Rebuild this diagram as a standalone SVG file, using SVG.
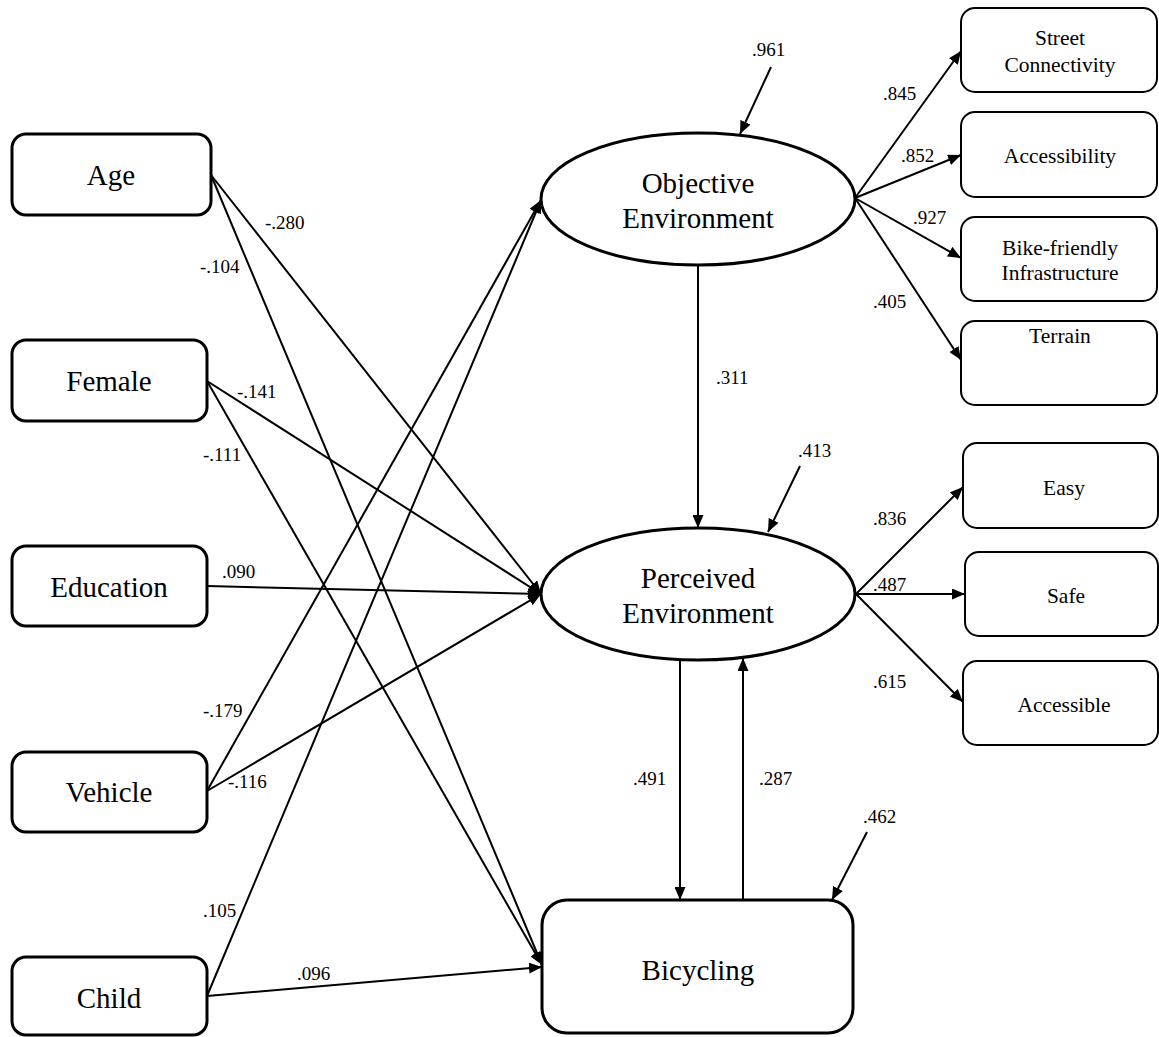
<svg xmlns="http://www.w3.org/2000/svg" width="1159" height="1037" viewBox="0 0 1159 1037">
<style>
.nb{fill:#fff;stroke:#000;stroke-width:3}
.ib{fill:#fff;stroke:#000;stroke-width:2}
.big{font-family:"Liberation Serif","Times New Roman",serif;font-size:29px;fill:#000;text-anchor:middle}
.sm{font-family:"Liberation Serif","Times New Roman",serif;font-size:21.5px;fill:#000;text-anchor:middle}
.lb{font-family:"Liberation Serif","Times New Roman",serif;font-size:19px;fill:#000}
.c line{stroke:#000;stroke-width:2;marker-end:url(#ah)}
</style>
<defs>
<marker id="ah" markerUnits="userSpaceOnUse" markerWidth="14" markerHeight="11" refX="13" refY="5.5" orient="auto">
<path d="M0,0 L13,5.5 L0,11 z" fill="#000"/>
</marker>
</defs>
<rect width="1159" height="1037" fill="#fff"/>
<g class="c" id="connectors">
<line x1="211" y1="175" x2="541" y2="594"/>
<line x1="211" y1="175" x2="542" y2="965"/>
<line x1="207" y1="381" x2="541" y2="594"/>
<line x1="207" y1="381" x2="542" y2="965"/>
<line x1="207" y1="586" x2="541" y2="594"/>
<line x1="207" y1="791" x2="541" y2="200"/>
<line x1="207" y1="791" x2="541" y2="594"/>
<line x1="207" y1="996" x2="541" y2="200"/>
<line x1="207" y1="996" x2="542" y2="967"/>
<line x1="698" y1="265" x2="698" y2="528"/>
<line x1="680" y1="660" x2="680" y2="900"/>
<line x1="743" y1="900" x2="743" y2="658"/>
<line x1="771" y1="67" x2="740" y2="134"/>
<line x1="800" y1="466" x2="768" y2="532"/>
<line x1="867" y1="832" x2="832" y2="900"/>
<line x1="855" y1="198" x2="961" y2="51"/>
<line x1="855" y1="198" x2="961" y2="155"/>
<line x1="855" y1="198" x2="961" y2="258"/>
<line x1="855" y1="198" x2="961" y2="360"/>
<line x1="856" y1="594" x2="963" y2="487"/>
<line x1="856" y1="594" x2="965" y2="594"/>
<line x1="856" y1="594" x2="963" y2="702"/>
</g>
<g id="age"><rect class="nb" x="12" y="134" width="199" height="81" rx="14"/><text class="big" x="111" y="185">Age</text></g>
<g id="female"><rect class="nb" x="12" y="340" width="195" height="81" rx="14"/><text class="big" x="109" y="391">Female</text></g>
<g id="education"><rect class="nb" x="12" y="546" width="195" height="80" rx="14"/><text class="big" x="109" y="597">Education</text></g>
<g id="vehicle"><rect class="nb" x="12" y="752" width="195" height="80" rx="14"/><text class="big" x="109" y="802">Vehicle</text></g>
<g id="child"><rect class="nb" x="12" y="957" width="195" height="78" rx="14"/><text class="big" x="109" y="1008">Child</text></g>
<g id="objective"><ellipse class="nb" cx="698" cy="199" rx="157" ry="66"/><text class="big" x="698" y="193">Objective</text><text class="big" x="698" y="228">Environment</text></g>
<g id="perceived"><ellipse class="nb" cx="698" cy="594" rx="157" ry="66"/><text class="big" x="698" y="588">Perceived</text><text class="big" x="698" y="623">Environment</text></g>
<g id="bicycling"><rect class="nb" x="542" y="900" width="311" height="133" rx="25"/><text class="big" x="698" y="980">Bicycling</text></g>
<g id="street"><rect class="ib" x="961" y="8" width="196" height="84" rx="14"/><text class="sm" x="1060" y="45">Street</text><text class="sm" x="1060" y="72">Connectivity</text></g>
<g id="accessibility"><rect class="ib" x="961" y="112" width="196" height="85" rx="14"/><text class="sm" x="1060" y="163">Accessibility</text></g>
<g id="bike"><rect class="ib" x="961" y="217" width="196" height="84" rx="14"/><text class="sm" x="1060" y="255">Bike-friendly</text><text class="sm" x="1060" y="280">Infrastructure</text></g>
<g id="terrain"><rect class="ib" x="961" y="321" width="196" height="84" rx="14"/><text class="sm" x="1060" y="343">Terrain</text></g>
<g id="easy"><rect class="ib" x="963" y="443" width="195" height="85" rx="14"/><text class="sm" x="1064" y="495">Easy</text></g>
<g id="safe"><rect class="ib" x="965" y="552" width="193" height="84" rx="14"/><text class="sm" x="1066" y="603">Safe</text></g>
<g id="accessible"><rect class="ib" x="963" y="661" width="195" height="84" rx="14"/><text class="sm" x="1064" y="712">Accessible</text></g>
<g id="labels">
<text class="lb" x="752" y="56">.961</text>
<text class="lb" x="883" y="100">.845</text>
<text class="lb" x="901" y="162">.852</text>
<text class="lb" x="913" y="224">.927</text>
<text class="lb" x="873" y="308">.405</text>
<text class="lb" x="716" y="384">.311</text>
<text class="lb" x="798" y="457">.413</text>
<text class="lb" x="873" y="525">.836</text>
<text class="lb" x="873" y="591">.487</text>
<text class="lb" x="873" y="688">.615</text>
<text class="lb" x="633" y="785">.491</text>
<text class="lb" x="759" y="785">.287</text>
<text class="lb" x="863" y="823">.462</text>
<text class="lb" x="265" y="229">-.280</text>
<text class="lb" x="200" y="273">-.104</text>
<text class="lb" x="237" y="398">-.141</text>
<text class="lb" x="203" y="461">-.111</text>
<text class="lb" x="222" y="578">.090</text>
<text class="lb" x="203" y="717">-.179</text>
<text class="lb" x="228" y="788">-.116</text>
<text class="lb" x="203" y="917">.105</text>
<text class="lb" x="297" y="980">.096</text>
</g>
</svg>
